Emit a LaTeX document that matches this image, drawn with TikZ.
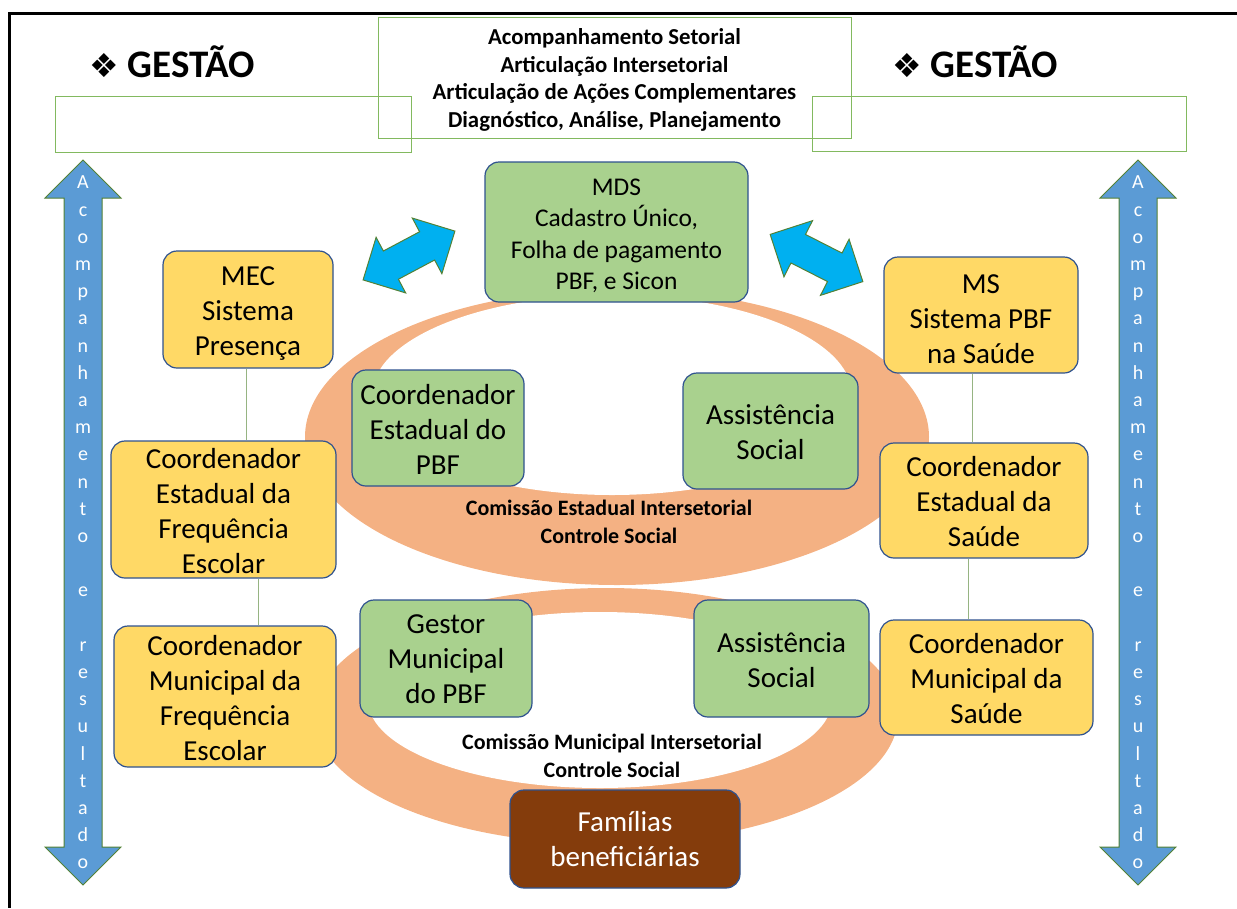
\documentclass[tikz,border=0pt]{standalone}
\usepackage{fontspec}
\setmainfont{Carlito}
\newfontfamily\symbolfont{DejaVu Sans}
\usepackage{xcolor}
\usetikzlibrary{shapes.arrows}
\definecolor{BOX-YELLOW}{HTML}{FFD966}
\definecolor{BOX-GREEN}{HTML}{A9D18E}
\definecolor{BOX-LINE}{HTML}{2F528F}
\definecolor{RING-ORANGE}{HTML}{F4B183}
\definecolor{FAM-BROWN}{HTML}{843C0C}
\definecolor{ARROW-BLUE}{HTML}{5B9BD5}
\definecolor{ARROW-CYAN}{HTML}{00B0F0}
\definecolor{ARROW-LINE}{HTML}{538135}
\definecolor{FRAME-GREEN}{RGB}{130,185,95}
\definecolor{LINK-GREEN}{RGB}{150,180,130}
\newcommand\vertword{A\\c\\o\\m\\p\\a\\n\\h\\a\\m\\e\\n\\t\\o\\\mbox{}\\e\\\mbox{}\\r\\e\\s\\u\\l\\t\\a\\d\\o}

\begin{document}
\begin{tikzpicture}[x=1pt,y=-1pt,every path/.style={>=latex},
	box/.style={draw=BOX-LINE,line width=1.2pt,rounded corners=14pt,inner sep=0pt},
	boxtext/.style={align=center,inner sep=0pt,yshift=-1.5pt,font=\fontsize{29}{35}\selectfont},
	yellowbox/.style={box,fill=BOX-YELLOW},
	greenbox/.style={box,fill=BOX-GREEN},
	outline/.style={draw=FRAME-GREEN,line width=1pt,inner sep=0pt},
	gestao/.style={font=\bfseries\fontsize{39}{46}\selectfont},
	comissao/.style={align=center,font=\bfseries\fontsize{22}{28}\selectfont},
	link/.style={draw=LINK-GREEN,line width=1pt},
	bluearrow/.style={double arrow,fill=ARROW-BLUE,draw=ARROW-LINE,line width=1pt,inner xsep=0pt,inner ysep=18.5pt,
		minimum height=725,double arrow head extend=19},
	cyanarrow/.style={double arrow,fill=ARROW-CYAN,draw=ARROW-LINE,line width=1pt,inner xsep=0pt,inner ysep=15.5pt,
		minimum height=104,double arrow head extend=15.5},
	arrowtext/.style={align=center,text=white,font=\fontsize{20}{27.2}\selectfont}]
	\useasboundingbox (0,0) rectangle (1237,908);

	% draw frame
	\draw[line width=3] (8,13) -- (1237,13);
	\draw[line width=3] (9,12) -- (9,908);

	% draw rings
	\fill[RING-ORANGE] (617,437) ellipse [x radius=312, y radius=148];
	\fill[white] (612,395) ellipse [x radius=240, y radius=100];
	\fill[RING-ORANGE] (606,716) ellipse [x radius=292, y radius=128];
	\fill[white] (600,700) ellipse [x radius=232, y radius=88];

	% draw top
	\node (gestBoxL) at (233,124) [outline,minimum width=356,minimum height=56] {};
	\node (gestBoxR) at (999,123.5) [outline,minimum width=374,minimum height=55] {};
	\node (acompBox) at (614.5,77.5) [outline,minimum width=473,minimum height=121] {};
	\node (acomp) at (614.5,80) [align=center,font=\bfseries\fontsize{22.8}{27.7}\selectfont]
		{Acompanhamento Setorial\\Articulação Intersetorial\\Articulação de Ações Complementares\\Diagnóstico, Análise, Planejamento};
	\node (gestL) at (172,62) [gestao] {{\symbolfont\fontsize{33}{38}\selectfont ❖} GESTÃO};
	\node (gestR) at (975,62) [gestao] {{\symbolfont\fontsize{33}{38}\selectfont ❖} GESTÃO};

	% draw side arrows
	\node (acompL) at (83,522.5) [bluearrow,rotate=90] {};
	\node (acompR) at (1138,522.5) [bluearrow,rotate=90] {};
	\node (acompTxtL) at (acompL.center) [arrowtext] {\vertword};
	\node (acompTxtR) at (acompR.center) [arrowtext] {\vertword};

	% draw nodes
	\node (mds) at (616.5,232) [greenbox,minimum width=263,minimum height=140,
		label={[boxtext,yshift=-2.5pt,font=\fontsize{25.5}{31.5}\selectfont]center:MDS\\Cadastro Único,\\Folha de pagamento\\PBF, e Sicon}] {};
	\node (mec) at (248,309.5) [yellowbox,minimum width=170,minimum height=117,
		label={[boxtext,yshift=-2.5pt]center:MEC\\Sistema\\Presença}] {};
	\node (cefe) at (223.5,509.5) [yellowbox,minimum width=225,minimum height=137,
		label={[boxtext]center:Coordenador\\Estadual da\\Frequência\\Escolar}] {};
	\node (cmfe) at (225,696.5) [yellowbox,minimum width=222,minimum height=141,
		label={[boxtext]center:Coordenador\\Municipal da\\Frequência\\Escolar}] {};
	\node (ms) at (981,315) [yellowbox,minimum width=194,minimum height=116,
		label={[boxtext,yshift=-2.5pt]center:MS\\Sistema PBF\\na Saúde}] {};
	\node (ces) at (984,500.5) [yellowbox,minimum width=208,minimum height=115,
		label={[boxtext,yshift=0.5pt]center:Coordenador\\Estadual da\\Saúde}] {};
	\node (cms) at (986.5,677.5) [yellowbox,minimum width=213,minimum height=115,
		label={[boxtext,yshift=0.5pt]center:Coordenador\\Municipal da\\Saúde}] {};
	\node (cepbf) at (438,428) [greenbox,minimum width=172,minimum height=116,
		label={[boxtext]center:Coordenador\\Estadual do\\PBF}] {};
	\node (asE) at (770.5,431) [greenbox,minimum width=175,minimum height=116,
		label={[boxtext,yshift=0.5pt]center:Assistência\\Social}] {};
	\node (gmpbf) at (446,658.5) [greenbox,minimum width=172,minimum height=117,
		label={[boxtext,yshift=1pt]center:Gestor\\Municipal\\do PBF}] {};
	\node (asM) at (781.5,658.5) [greenbox,minimum width=175,minimum height=117,
		label={[boxtext]center:Assistência\\Social}] {};
	\node (fam) at (625,839) [box,fill=FAM-BROWN,minimum width=230,minimum height=98,
		label={[boxtext,yshift=1.5pt,text=white]center:Famílias\\beneficiárias}] {};
	\node (ceis) at (609,522) [comissao] {Comissão Estadual Intersetorial\\Controle Social};
	\node (cmis) at (612,756) [comissao] {Comissão Municipal Intersetorial\\Controle Social};

	% draw arrows
	\node (arrL) at (409,255.5) [cyanarrow,rotate=28] {};
	\node (arrR) at (816.5,258) [cyanarrow,rotate=-27] {};

	% draw links
	\draw[link] ([xshift=-2]mec.south) -- ([xshift=-2]mec.south |- cefe.north);
	\draw[link] ([xshift=34.5]cefe.south) -- ([xshift=34.5]cefe.south |- cmfe.north);
	\draw[link] ([xshift=-9]ms.south) -- ([xshift=-9]ms.south |- ces.north);
	\draw[link] ([xshift=-16]ces.south) -- ([xshift=-16]ces.south |- cms.north);
\end{tikzpicture}
\end{document}
